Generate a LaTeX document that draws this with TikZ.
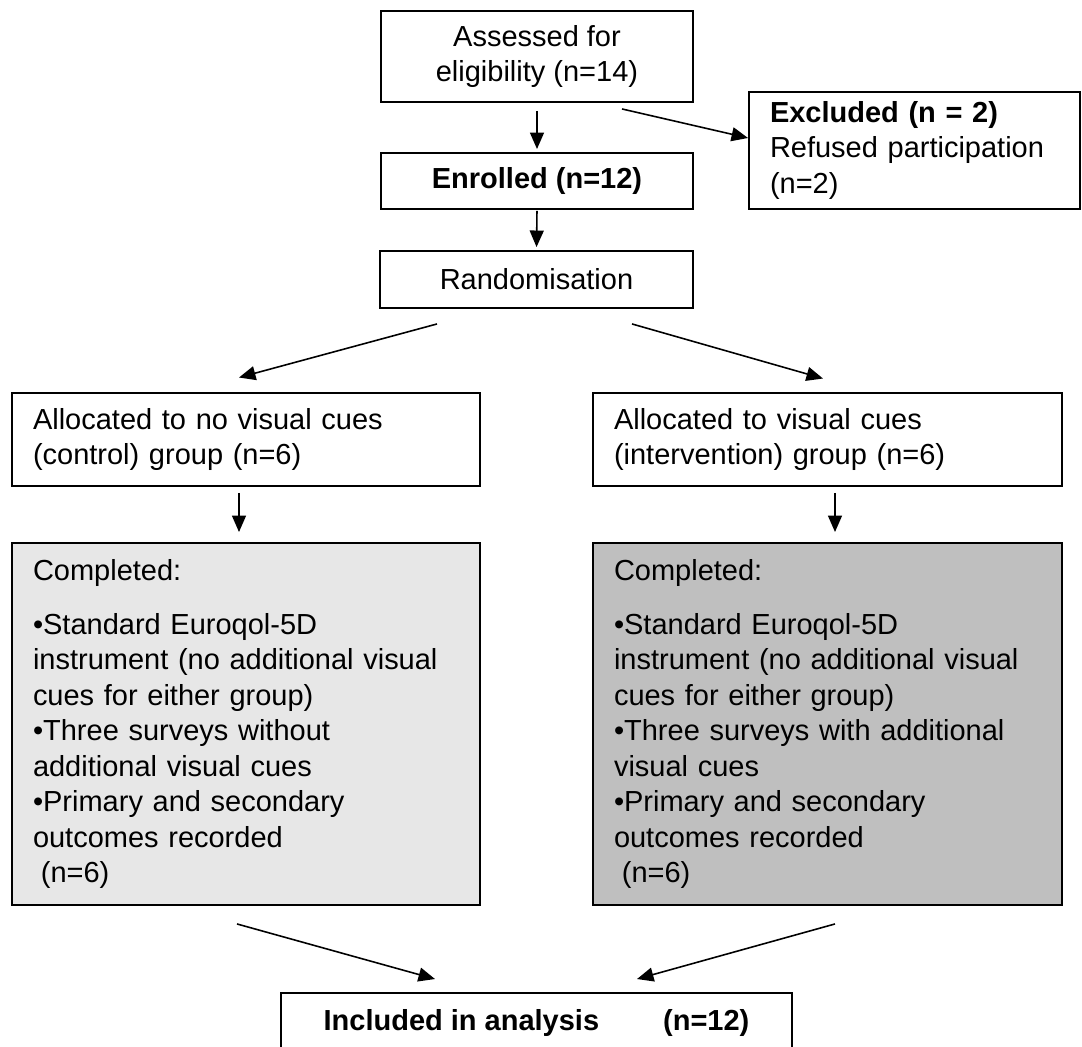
\documentclass[tikz,border=0pt]{standalone}
\usepackage{fontspec}
\setmainfont{Liberation Sans}
\usepackage{tikz}
\usetikzlibrary{arrows.meta, positioning, calc}
\tikzstyle{box}     = [rectangle, draw=black, line width=1.1pt, inner sep=0pt, align=center]
\tikzstyle{textbox} = [rectangle, draw=black, line width=1.1pt, inner xsep=0.42cm, inner ysep=0pt, align=left]
\tikzstyle{arrow}   = [line width=0.9pt, ->, >={Triangle[length=3.3mm, width=2.8mm]}]

\begin{document}
\begin{tikzpicture}[every node/.style={font=\fontsize{16.5}{20.2}\selectfont}]
  \useasboundingbox (0,0) rectangle (21.64,-20.94);

  % Enrolment
  \node (assess) [box, minimum width=6.24cm, minimum height=1.82cm] at (10.74,-1.13) {Assessed for\\eligibility (n=14)};
  \node (enrol)  [box, minimum width=6.24cm, minimum height=1.12cm] at (10.74,-3.62) {\bfseries Enrolled (n=12)};
  \node (excl)   [textbox, minimum width=6.62cm, minimum height=2.34cm, text width=5.78cm] at (18.29,-3.01)
                 {{\bfseries Excluded (n = 2)}\\Refused participation\\(n=2)};
  \node (rand)   [box, minimum width=6.26cm, minimum height=1.14cm] at (10.73,-5.59) {Randomisation};

  % Allocation
  \node (ctrl)   [textbox, minimum width=9.36cm, minimum height=1.86cm, text width=8.52cm] at (4.92,-8.79)
                 {Allocated to no visual cues\\(control) group (n=6)};
  \node (interv) [textbox, minimum width=9.38cm, minimum height=1.86cm, text width=8.54cm] at (16.55,-8.79)
                 {Allocated to visual cues\\(intervention) group (n=6)};

  % Follow-up
  \node (doneC)  [textbox, fill=gray!19, minimum width=9.36cm, minimum height=7.24cm, text width=8.52cm] at (4.92,-14.48)
                 {Completed:\\[0.37cm]%
                  •Standard Euroqol-5D\\instrument (no additional visual\\cues for either group)\\%
                  •Three surveys without\\additional visual cues\\%
                  •Primary and secondary\\outcomes recorded\\\hspace*{4.5pt}(n=6)};
  \node (doneI)  [textbox, fill=gray!50, minimum width=9.38cm, minimum height=7.24cm, text width=8.54cm] at (16.55,-14.48)
                 {Completed:\\[0.37cm]%
                  •Standard Euroqol-5D\\instrument (no additional visual\\cues for either group)\\%
                  •Three surveys with additional\\visual cues\\%
                  •Primary and secondary\\outcomes recorded\\\hspace*{4.5pt}(n=6)};

  % Analysis
  \node (incl)   [box, minimum width=10.22cm, minimum height=1.2cm] at (10.73,-20.46)
                 {\bfseries Included in analysis\hspace{1.28cm}(n=12)};

  % Assessed -> Enrolled
  \draw[arrow, shorten <=0.16cm, shorten >=0.06cm] (assess.south) -- (enrol.north);
  % Assessed -> Excluded
  \draw[arrow] ($(assess.south)+(1.7,-0.12)$) -- ($(excl.west)+(0,0.25)$);
  % Enrolled -> Randomisation
  \draw[arrow, shorten <=0.02cm, shorten >=0.06cm] (enrol.south) -- (rand.north);
  % Randomisation -> groups
  \draw[arrow] ($(rand.south)+(-1.99,-0.3)$) -- ($(ctrl.north)+(-0.14,0.29)$);
  \draw[arrow] ($(rand.south)+(1.91,-0.3)$) -- ($(interv.north)+(-0.09,0.27)$);
  % groups -> Completed
  \draw[arrow, shorten <=0.12cm, shorten >=0.2cm] ($(ctrl.south)+(-0.14,0)$) -- ($(doneC.north)+(-0.14,0)$);
  \draw[arrow, shorten <=0.12cm, shorten >=0.2cm] ($(interv.south)+(0.15,0)$) -- ($(doneI.north)+(0.15,0)$);
  % Completed -> Included
  \draw[arrow] ($(doneC.south)+(-0.18,-0.36)$) -- ($(incl.north)+(-2.03,0.26)$);
  \draw[arrow] ($(doneI.south)+(0.15,-0.36)$) -- ($(incl.north)+(2.01,0.26)$);

\end{tikzpicture}
\end{document}
